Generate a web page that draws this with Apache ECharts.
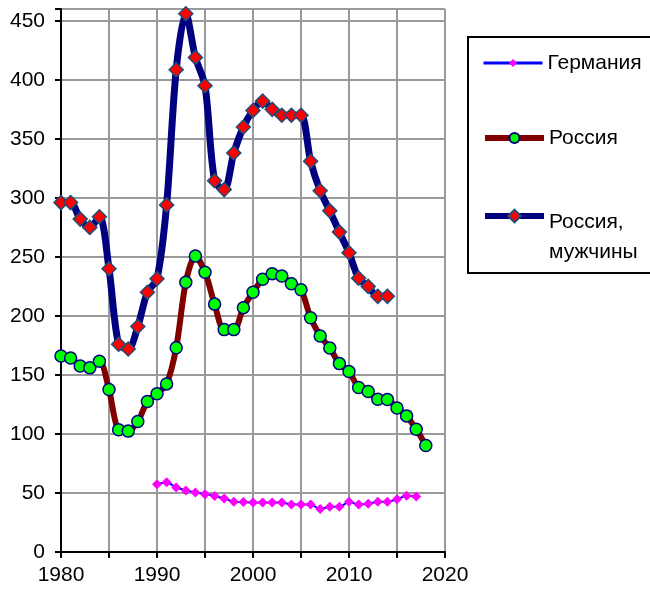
<!DOCTYPE html>
<html>
<head>
<meta charset="utf-8">
<script src="https://cdn.jsdelivr.net/npm/echarts@6/dist/echarts.min.js"></script>
<style>
  html, body { margin: 0; padding: 0; background: #fff; }
  #chart { width: 650px; height: 593px; }
</style>
</head>
<body>
<div id="chart"></div>
<script>
// values
var germanyStart = 1990;
var germany = [57.5, 59, 54.7, 52.2, 50.5, 49, 47.4, 45.3, 42.6, 42.4,
  42, 42, 42, 42, 40.3, 40.3, 40.3, 36.4, 38.3, 38.3,
  42.5, 40.3, 40.8, 42.5, 42.5, 44.6, 47.6, 47.1];

var russiaStart = 1980;
var russia = [166, 164.4, 157.6, 156, 161.6, 137.6, 103.5, 102.4, 110.6, 127.5,
  134, 142.4, 173, 228.5, 250.7, 237, 210, 188.4, 188.4, 207,
  220, 231, 235.8, 233.8, 227.3, 222.2, 198.5, 183, 172.8, 159.6,
  152.9, 139.3, 136, 129.4, 129.2, 122, 115.3, 104, 90.2];

var menStart = 1980;
var russiaMen = [296, 296, 282, 275, 284, 240, 176, 172, 191, 220,
  231.5, 294, 408.6, 456, 419, 395, 314.5, 307, 338, 360,
  374, 382, 375, 370, 370, 370, 331, 306, 289, 271,
  253.5, 232, 225, 216.6, 216.6];

var xTicks = [1980, 1990, 2000, 2010, 2020];

function toPairs(start, arr) {
  return arr.map(function (v, i) { return [start + i, v]; });
}

var chartDom = document.getElementById("chart");
var myChart = echarts.init(chartDom);
var option;

var font = "Liberation Sans, Arial, sans-serif";
var legendText = { fontSize: 21, fontFamily: font, color: "#000", lineHeight: 24 };

option = {
  animation: false,
  grid: {
    left: 61,
    right: 205,
    top: 9,
    bottom: 41,
  },
  xAxis: {
    type: "value",
    min: 1980,
    max: 2020,
    interval: 5,
    axisLine: { lineStyle: { color: "#000", width: 2 } },
    axisTick: { show: true, length: 6, lineStyle: { color: "#000", width: 2 } },
    axisLabel: {
      color: "#000",
      fontSize: 21,
      fontFamily: font,
      margin: 13,
      formatter: function (v) {
        return xTicks.indexOf(v) >= 0 ? String(v) : "";
      },
    },
    splitLine: { show: true, lineStyle: { color: "#9a9a9a", width: 2 } },
  },
  yAxis: {
    type: "value",
    min: 0,
    max: 460,
    interval: 50,
    axisLine: { show: true, lineStyle: { color: "#000", width: 2 } },
    axisTick: { show: true, length: 6, lineStyle: { color: "#000", width: 2 } },
    axisLabel: {
      color: "#000",
      fontSize: 21,
      fontFamily: font,
      margin: 16,
      formatter: function (v) {
        return v % 50 === 0 ? String(v) : "";
      },
    },
    splitLine: { show: true, lineStyle: { color: "#9a9a9a", width: 2 } },
  },
  legend: [
    {
      data: ["Германия"],
      left: 482,
      top: 51,
      padding: 0,
      itemWidth: 59,
      itemHeight: 10,
      lineStyle: { width: 3 },
      textStyle: legendText,
    },
    {
      data: ["Россия"],
      left: 482,
      top: 126,
      padding: 0,
      itemWidth: 59,
      itemHeight: 12.5,
      lineStyle: { width: 6 },
      textStyle: legendText,
    },
    {
      data: ["Россия, мужчины"],
      left: 482,
      top: 184,
      padding: 0,
      itemWidth: 59,
      itemHeight: 16,
      lineStyle: { width: 6 },
      formatter: function () {
        return "{e| }\n{a|Россия,}\n{a|мужчины}";
      },
      textStyle: {
        fontSize: 21,
        fontFamily: font,
        color: "#000",
        rich: {
          e: { fontSize: 4, lineHeight: 42 },
          a: { fontSize: 21, fontFamily: font, color: "#000", lineHeight: 30 },
        },
      },
    },
  ],
  graphic: [
    {
      type: "rect",
      shape: { x: 468, y: 37, width: 200, height: 236 },
      style: { fill: "none", stroke: "#000", lineWidth: 2 },
      silent: true,
    },
  ],
  series: [
    {
      name: "Германия",
      type: "line",
      smooth: 0.2,
      symbol: "diamond",
      symbolSize: 10,
      lineStyle: { color: "#0000ff", width: 2 },
      itemStyle: { color: "#ff00ff", borderWidth: 0 },
      data: toPairs(germanyStart, germany),
    },
    {
      name: "Россия",
      type: "line",
      smooth: 0.3,
      symbol: "circle",
      symbolSize: 12,
      lineStyle: { color: "#800000", width: 6 },
      itemStyle: { color: "#00ff00", borderColor: "#000080", borderWidth: 1.5 },
      data: toPairs(russiaStart, russia),
    },
    {
      name: "Россия, мужчины",
      type: "line",
      smooth: 0.3,
      symbol: "diamond",
      symbolSize: 14,
      lineStyle: { color: "#000080", width: 7 },
      itemStyle: { color: "#ff0000", borderColor: "#1f4e79", borderWidth: 1.5 },
      data: toPairs(menStart, russiaMen),
    },
  ],
};

option && myChart.setOption(option);
</script>
</body>
</html>
